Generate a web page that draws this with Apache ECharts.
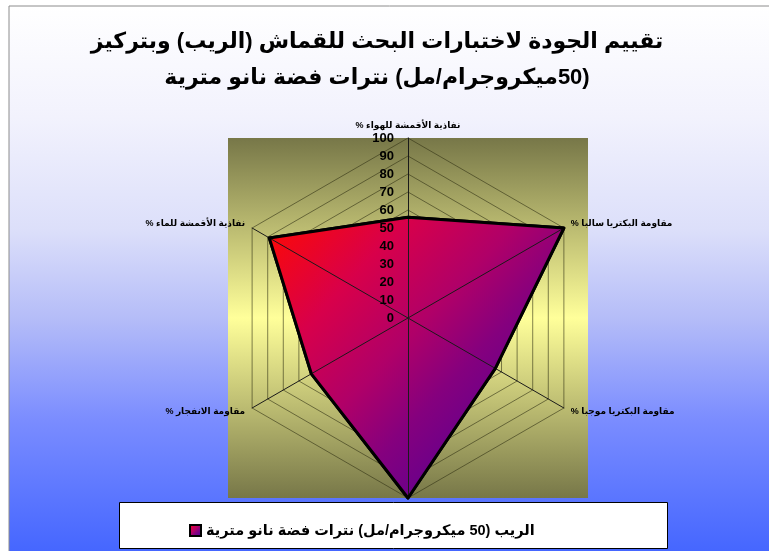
<!DOCTYPE html>
<html><head><meta charset="utf-8">
<script src="https://cdn.jsdelivr.net/npm/echarts@6/dist/echarts.min.js"></script>
<style>html,body{margin:0;padding:0;background:#fff;overflow:hidden}#c{width:769px;height:551px;}</style>
</head><body><div id="c"></div>
<script>
const RLM = '\u200F';
const titleLines = ['تقييم الجودة لاختبارات البحث للقماش (الريب) وبتركيز', '(50ميكروجرام/مل) نترات فضة نانو مترية'];
// indicators listed in drawing order (top, then counter-clockwise)
const indicatorNames = ['نفاذية الأقمشة للهواء %', 'نفاذية الأقمشة للماء %', 'مقاومة الانفجار %', '', 'مقاومة البكتريا موجبا %', 'مقاومة البكتريا سالبا %'];
const seriesName = 'الريب (50 ميكروجرام/مل) نترات فضة نانو مترية';
const seriesValues = [56, 89, 62, 100, 56, 100];
const axisMin = 0;
const axisMax = 100;
const axisStep = 10;

const FONT = "'Liberation Sans', 'DejaVu Sans', Arial, sans-serif";
const rtl = s => s ? RLM + s + RLM : s;
const CX = 408, CY = 318, R = 180;

const areaGrad = () => new echarts.graphic.LinearGradient(0, 0, 1, 1, [
  {offset: 0, color: '#ff0a00'},
  {offset: 0.25, color: '#d8004a'},
  {offset: 0.45, color: '#b00068'},
  {offset: 0.6, color: '#85007e'},
  {offset: 0.8, color: '#5e0090'},
  {offset: 1, color: '#45009c'}
]);

const indicatorsMain = indicatorNames.map(n => ({name: rtl(n), min: axisMin, max: axisMax}));
const indicatorsTop = indicatorNames.map((n, i) => {
  const o = {name: '', min: axisMin, max: axisMax};
  if (i === 0) o.axisLabel = {show: true};
  return o;
});

const chart = echarts.init(document.getElementById('c'), null, {renderer: 'canvas'});
chart.setOption({
  animation: false,
  title: {
    text: titleLines.map(rtl).join('\n'),
    left: 372, top: 19, textAlign: 'center',
    textStyle: {fontFamily: FONT, fontWeight: 'bold', fontSize: 22, color: '#000', lineHeight: 36}
  },
  graphic: [
    {type: 'rect', z: -20, shape: {x: 0, y: 0, width: 769, height: 551}, style: {fill: '#ffffff'}},
    {type: 'rect', z: -19, shape: {x: 9, y: 6, width: 800, height: 560},
      style: {stroke: '#8c8c8c', lineWidth: 1,
        fill: new echarts.graphic.LinearGradient(0, 0, 0, 1, [
          {offset: 0, color: '#ffffff'},
          {offset: 0.2, color: '#f2f2fd'},
          {offset: 0.4, color: '#dcdffa'},
          {offset: 0.56, color: '#b4bcf8'},
          {offset: 0.74, color: '#7a8cff'},
          {offset: 1, color: '#3f62ff'}
        ])}},
    {type: 'rect', z: -18, shape: {x: CX - R, y: CY - R, width: 2 * R, height: 2 * R},
      style: {fill: new echarts.graphic.LinearGradient(0, 0, 0, 1, [
        {offset: 0, color: '#777748'},
        {offset: 0.5, color: '#ffff9a'},
        {offset: 1, color: '#777748'}
      ])}},
    {type: 'rect', z: -17, shape: {x: 119.5, y: 502.5, width: 548, height: 46},
      style: {fill: '#ffffff', stroke: '#000000', lineWidth: 1}}
  ],
  legend: {
    left: 184, top: 518, icon: 'rect', itemWidth: 11, itemHeight: 11, itemGap: 6,
    textStyle: {fontFamily: FONT, fontWeight: 'bold', fontSize: 14.5, color: '#000'},
    data: [{name: rtl(seriesName), itemStyle: {color: areaGrad(), borderColor: '#000', borderWidth: 2}}]
  },
  radar: [
    {
      center: [CX, CY], radius: R, startAngle: 90, splitNumber: (axisMax - axisMin) / axisStep, shape: 'polygon',
      indicator: indicatorsMain,
      axisName: {color: '#000', fontFamily: FONT, fontWeight: 'bold', fontSize: 9},
      nameGap: 8,
      splitLine: {lineStyle: {color: 'rgba(50,50,20,0.6)', width: 1}},
      splitArea: {show: false},
      axisLine: {show: false},
      axisLabel: {show: false},
      axisTick: {show: false}
    },
    {
      center: [CX, CY], radius: R, startAngle: 90, splitNumber: (axisMax - axisMin) / axisStep, shape: 'polygon',
      z: 10,
      indicator: indicatorsTop,
      axisName: {show: false},
      splitLine: {show: false},
      splitArea: {show: false},
      axisLine: {show: true, lineStyle: {color: '#1a1a1a', width: 1}},
      axisTick: {show: false},
      axisLabel: {show: false, color: '#000', fontFamily: FONT, fontWeight: 'bold', fontSize: 13, margin: 14}
    }
  ],
  series: [{
    type: 'radar', radarIndex: 0, name: rtl(seriesName), symbol: 'none', z: 3,
    itemStyle: {color: '#a0006c'},
    lineStyle: {color: '#000', width: 3},
    areaStyle: {color: areaGrad(), opacity: 1},
    data: [{name: rtl(seriesName), value: seriesValues}]
  }, {
    type: 'radar', radarIndex: 1, name: 'outline', symbol: 'none', z: 12, silent: true,
    itemStyle: {color: '#000'},
    lineStyle: {color: '#000', width: 3},
    data: [{name: 'outline', value: seriesValues}]
  }]
});
</script></body></html>
